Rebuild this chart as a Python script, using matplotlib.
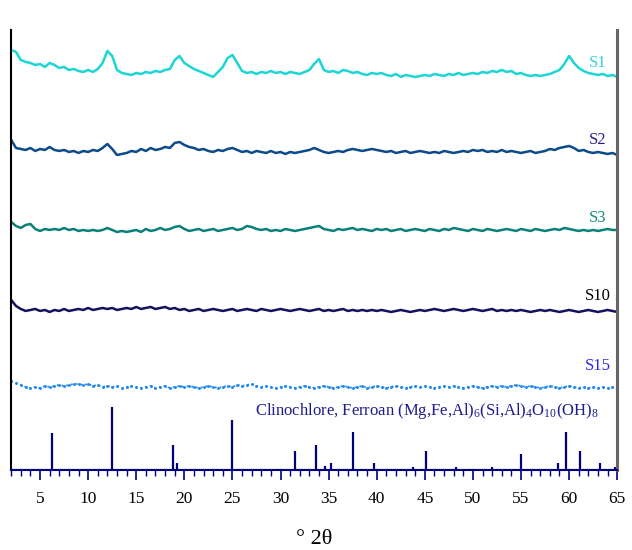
import numpy as np
import matplotlib
matplotlib.use("Agg")
import matplotlib.pyplot as plt
from matplotlib.ticker import MultipleLocator

plt.rcParams["font.family"] = ["Liberation Serif", "DejaVu Serif"]
plt.rcParams["mathtext.fontset"] = "custom"
plt.rcParams["mathtext.rm"] = "Liberation Serif"
plt.rcParams["mathtext.it"] = "Liberation Serif:italic"

# 2-theta grid of the read-off patterns
two_theta = np.arange(2.0, 65.01, 0.5)

# intensities (arbitrary units, above each pattern's own baseline)
s1 = [30, 28, 20, 18, 17, 15, 16, 13, 17, 15, 12, 13, 10, 11, 9, 8, 10, 8, 11, 17,
      29, 24, 10, 7, 6, 5, 7, 6, 8, 7, 9, 8, 10, 11, 20, 24, 17, 14, 11, 9,
      7, 5, 3, 8, 13, 22, 25, 17, 9, 7, 8, 6, 8, 7, 9, 7, 8, 6, 8, 7,
      6, 8, 10, 16, 21, 10, 8, 9, 7, 10, 9, 7, 8, 6, 5, 7, 6, 7, 5, 4,
      6, 3, 5, 4, 3, 4, 5, 4, 6, 5, 4, 6, 5, 7, 5, 6, 7, 6, 8, 7,
      9, 8, 10, 8, 9, 6, 7, 5, 4, 5, 4, 5, 6, 8, 10, 16, 24, 17, 12, 9,
      7, 6, 5, 6, 4, 5, 3]
s2 = [20, 12, 11, 10, 12, 9, 11, 10, 13, 10, 9, 10, 8, 9, 7, 9, 8, 10, 9, 12,
      16, 11, 5, 6, 7, 9, 8, 11, 9, 12, 10, 11, 13, 12, 17, 18, 15, 13, 12, 10,
      11, 9, 8, 10, 9, 11, 12, 10, 8, 9, 7, 9, 8, 7, 9, 7, 8, 6, 8, 7,
      8, 9, 10, 12, 10, 8, 7, 8, 9, 8, 10, 11, 10, 9, 10, 11, 10, 9, 8, 9,
      7, 8, 9, 7, 8, 9, 8, 7, 8, 7, 9, 8, 7, 8, 9, 8, 10, 9, 10, 8,
      9, 8, 10, 8, 9, 8, 7, 8, 9, 7, 8, 9, 11, 10, 12, 13, 14, 12, 9, 10,
      8, 7, 8, 7, 6, 7, 5]
s3 = [13, 9, 7, 10, 11, 6, 4, 6, 5, 6, 5, 7, 5, 6, 4, 5, 4, 5, 4, 5,
      7, 5, 3, 4, 3, 4, 5, 3, 6, 4, 5, 7, 5, 6, 8, 9, 6, 4, 5, 6,
      4, 5, 6, 4, 5, 6, 7, 5, 6, 9, 8, 6, 5, 6, 4, 5, 4, 6, 5, 4,
      5, 6, 7, 8, 9, 6, 5, 4, 6, 5, 6, 7, 5, 6, 5, 4, 6, 5, 6, 4,
      5, 6, 4, 5, 6, 5, 4, 6, 5, 4, 6, 5, 7, 6, 5, 4, 6, 5, 4, 6,
      5, 4, 5, 6, 5, 4, 6, 5, 4, 6, 5, 4, 5, 6, 5, 7, 6, 5, 4, 5,
      4, 5, 4, 5, 6, 5, 5]
s10 = [15, 9, 6, 4, 5, 6, 4, 5, 3, 5, 4, 6, 4, 5, 6, 5, 7, 5, 6, 7,
       6, 7, 5, 6, 7, 6, 8, 6, 7, 8, 6, 7, 8, 6, 7, 5, 6, 4, 5, 6,
       4, 5, 6, 5, 4, 5, 6, 4, 5, 6, 5, 4, 6, 5, 4, 5, 6, 5, 4, 5,
       6, 5, 4, 5, 6, 4, 5, 4, 5, 6, 4, 5, 4, 5, 4, 5, 4, 5, 4, 3,
       4, 5, 4, 3, 4, 5, 4, 5, 6, 5, 4, 5, 6, 5, 4, 5, 6, 5, 4, 5,
       6, 4, 5, 4, 5, 4, 5, 4, 3, 4, 5, 4, 5, 4, 3, 4, 5, 4, 3, 4,
       5, 4, 3, 4, 5, 4, 3]
s15 = [11, 9, 7, 5, 4, 5, 4, 6, 5, 6, 7, 6, 7, 8, 8, 7, 8, 6, 7, 5,
       6, 5, 6, 4, 5, 6, 5, 4, 5, 6, 4, 5, 6, 4, 5, 6, 5, 6, 5, 4,
       5, 6, 5, 4, 5, 6, 5, 7, 6, 7, 8, 6, 5, 6, 5, 4, 5, 6, 5, 4,
       5, 6, 5, 4, 5, 6, 5, 4, 5, 6, 5, 4, 5, 6, 4, 5, 6, 5, 4, 5,
       6, 5, 4, 5, 6, 5, 6, 5, 4, 5, 6, 5, 6, 5, 4, 5, 6, 5, 4, 5,
       6, 5, 6, 5, 6, 7, 6, 5, 6, 5, 4, 5, 6, 5, 4, 5, 6, 5, 4, 5,
       4, 5, 4, 5, 4, 5, 4]

sample_names = ["S1", "S2", "S3", "S10", "S15"]

# reference pattern: Clinochlore, Ferroan (relative intensity)
ref_pos = [6.2, 12.45, 18.8, 19.2, 25.0, 31.5, 33.7, 34.6, 35.2, 37.5, 39.7,
           43.75, 45.1, 48.2, 51.95, 54.95, 58.8, 59.7, 61.15, 63.2, 64.8]
ref_int = [59, 100, 40, 11, 79, 30, 40, 6, 11, 60, 11,
           5, 30, 5, 5, 25, 11, 60, 30, 11, 5]

# styling
offsets = [390, 310, 235, 155, 78]
line_colors = ["#1cd6d6", "#0c4a8a", "#0a807a", "#12125e", "#1e88f0"]
label_colors = ["#30d4e0", "#2a1a8c", "#168a84", "#000000", "#2a2ae6"]
label_y = [407, 330, 252, 174, 104]

fig = plt.figure(figsize=(6.32, 5.5), dpi=100)
ax = fig.add_axes([0.0177, 0.1455, 0.9589, 0.80])

series = [s1, s2, s3, s10, s15]
for i, data in enumerate(series):
    y = np.asarray(data) + offsets[i]
    if sample_names[i] == "S15":
        ax.plot(two_theta, y, color=line_colors[i], lw=1.3, ls=":",
                marker=".", ms=2.2)
    else:
        ax.plot(two_theta, y, color=line_colors[i], lw=1.8)
    ax.text(63.0, label_y[i], sample_names[i], color=label_colors[i],
            fontsize=12, ha="center", va="center")

ax.vlines(ref_pos, 0, np.asarray(ref_int) * 0.63, color="#00007f", lw=1.6)
ax.axhline(0, color="#00007f", lw=1.5)
ax.text(27.3, 59, "Clinochlore, Ferroan (Mg,Fe,Al)$_{6}$(Si,Al)$_{4}$O$_{10}$(OH)$_{8}$",
        color="#1d1d8a", fontsize=12, ha="left", va="center")

ax.set_xlim(2, 65)
ax.set_ylim(0, 440)
ax.xaxis.set_major_locator(MultipleLocator(5))
ax.xaxis.set_minor_locator(MultipleLocator(1))
ax.tick_params(axis="x", which="major", length=7, width=1.2, color="#00007f",
               labelsize=12.5, pad=8)
ax.tick_params(axis="x", which="minor", length=4, width=1.0, color="#00007f")
ax.set_yticks([])
ax.spines["top"].set_visible(False)
ax.spines["bottom"].set_color("#00007f")
ax.spines["bottom"].set_linewidth(1.5)
ax.spines["left"].set_linewidth(1.5)
ax.spines["right"].set_color("#666666")
ax.spines["right"].set_linewidth(2.2)
ax.set_xlabel("° 2θ", fontsize=16, labelpad=17)

plt.savefig("out.png", dpi=100)
